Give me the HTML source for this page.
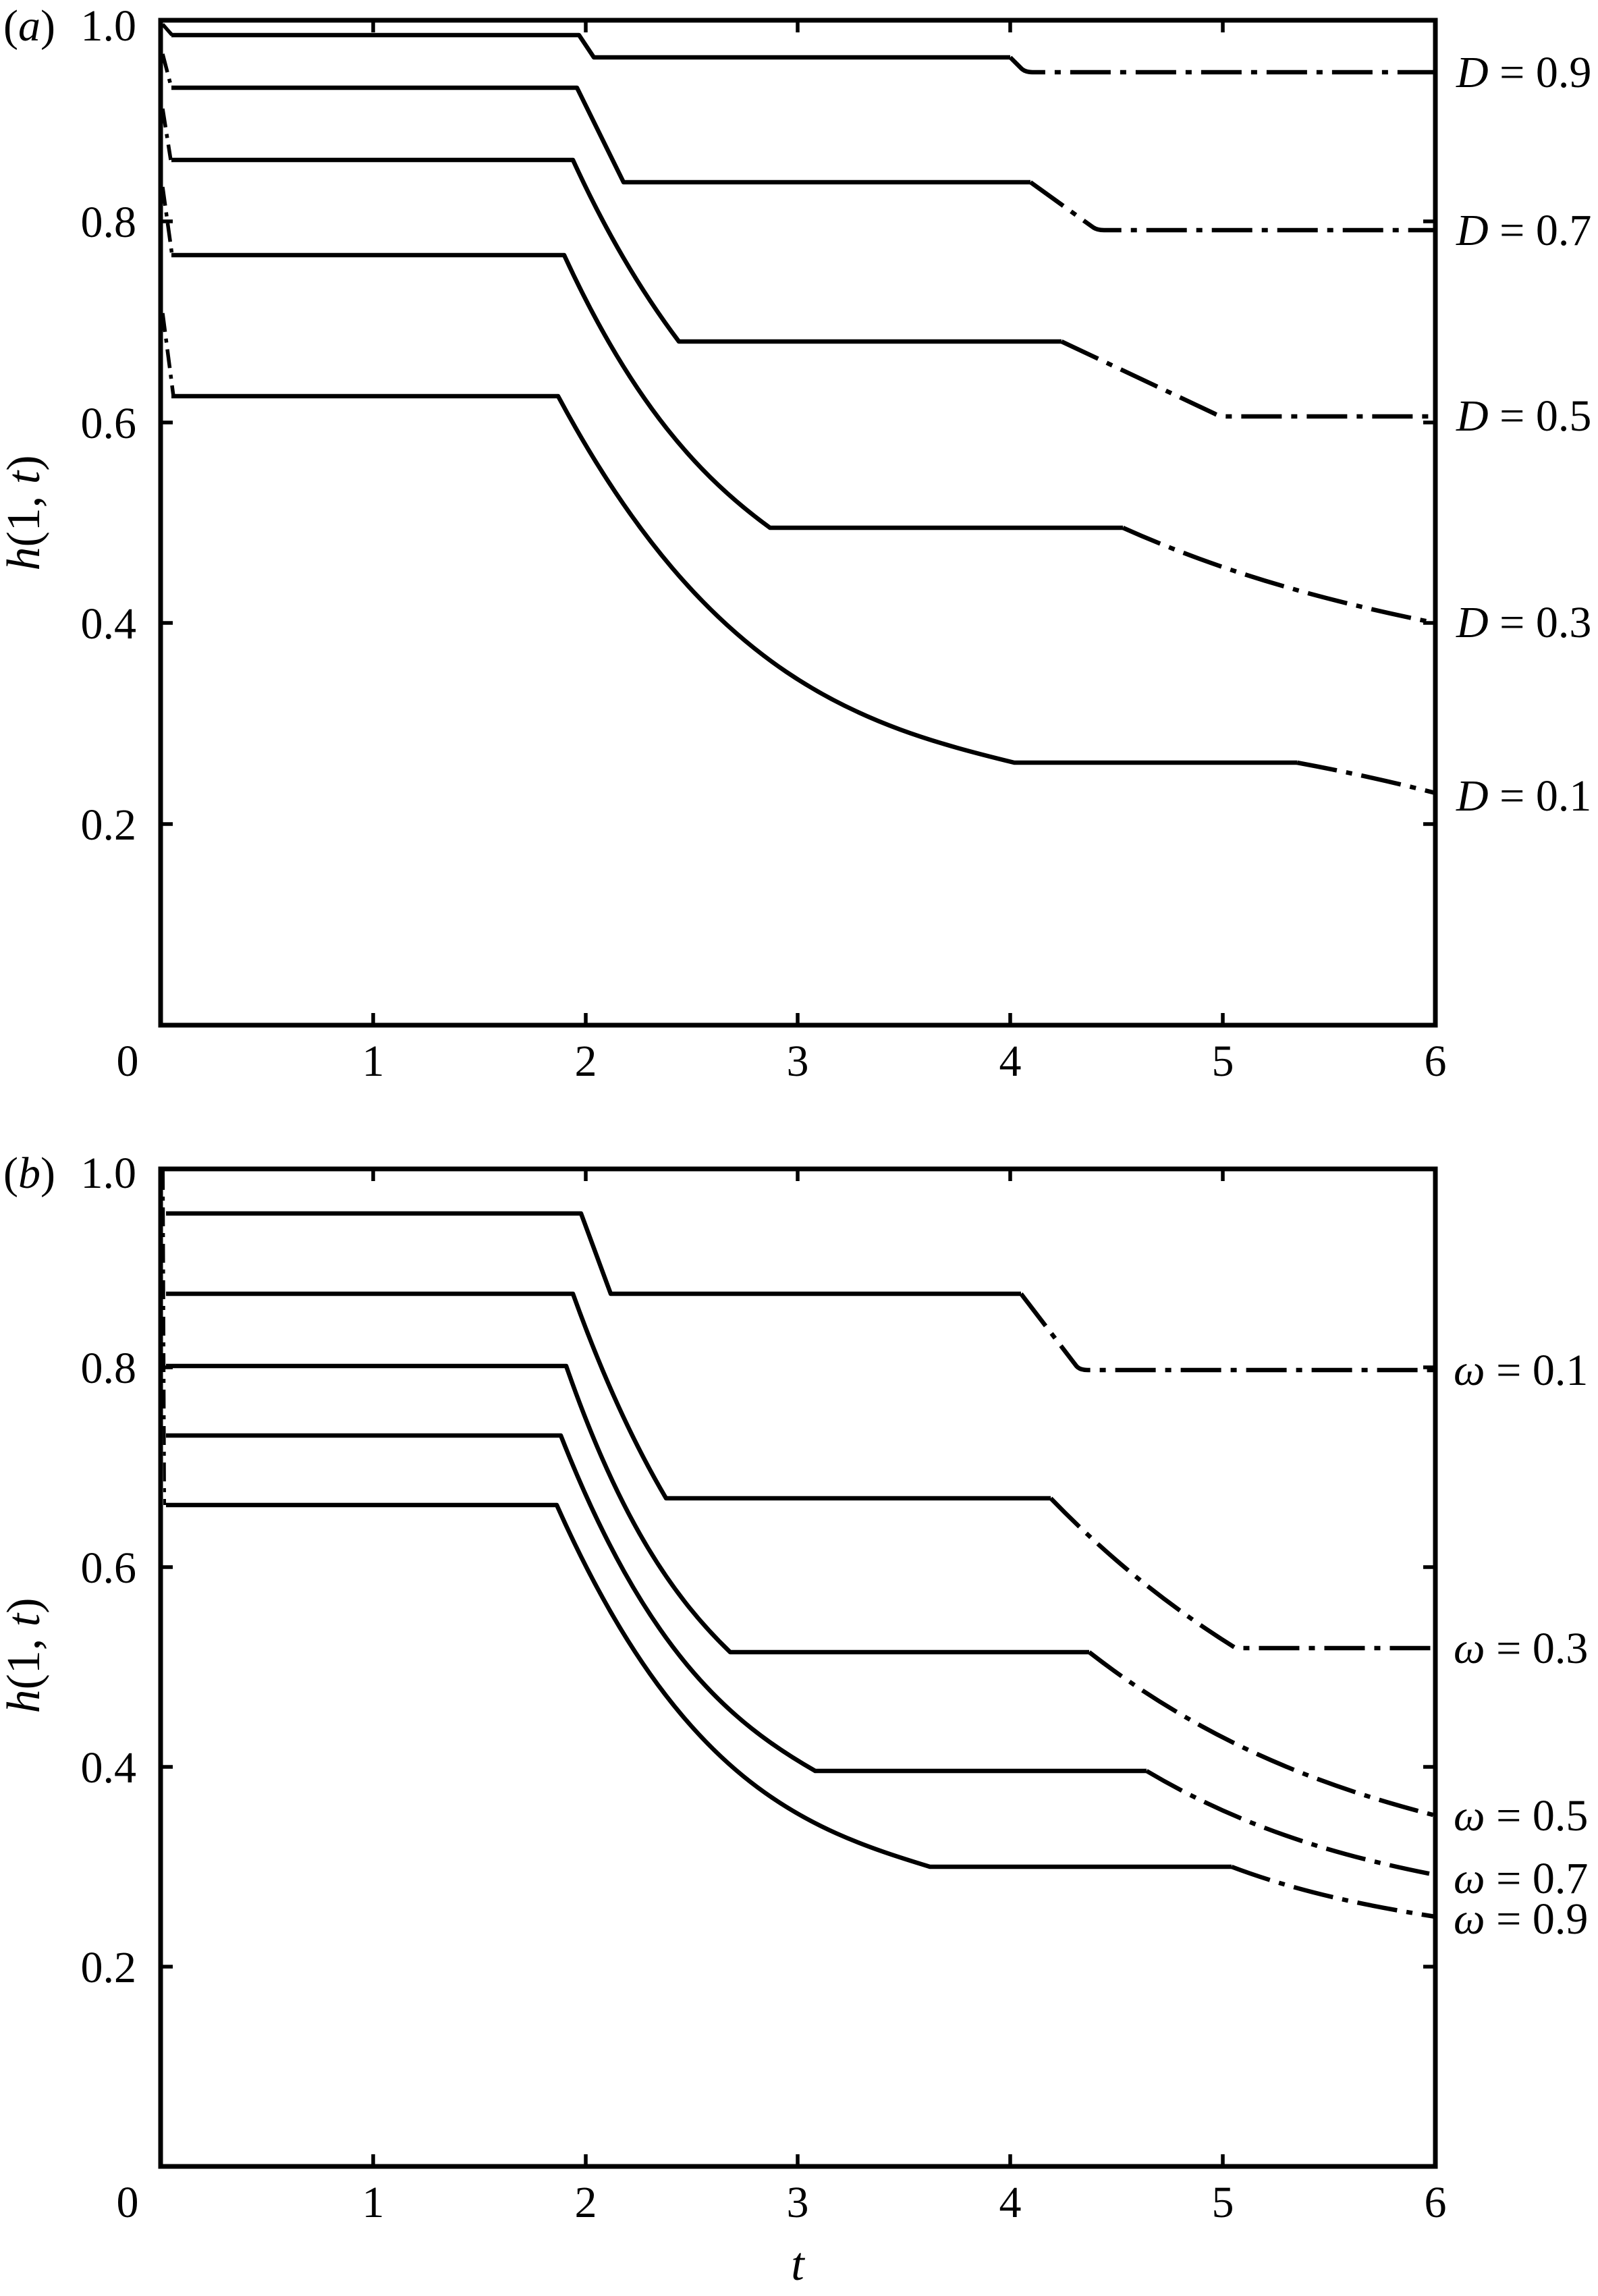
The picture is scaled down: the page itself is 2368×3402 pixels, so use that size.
<!DOCTYPE html>
<html><head><meta charset="utf-8"><style>
html,body{margin:0;padding:0;background:#fff;}
svg{display:block;}
text{font-family:"Liberation Serif",serif;fill:#000;}
</style></head><body>
<svg width="2368" height="3402" viewBox="0 0 2368 3402" xmlns="http://www.w3.org/2000/svg">
<rect width="2368" height="3402" fill="#fff"/>
<g fill="none" stroke="#000" stroke-width="7">
<rect x="238" y="30" width="1889" height="1489"/>
<rect x="238" y="1732" width="1889" height="1478"/>
</g>
<g stroke="#000" stroke-width="5.5">
<path d="M553,1519v-18M868,1519v-18M1182,1519v-18M1497,1519v-18M1812,1519v-18
M553,30v18M868,30v18M1182,30v18M1497,30v18M1812,30v18
M238,1221h18M238,923h18M238,626h18M238,328h18
M2127,1221h-18M2127,923h-18M2127,626h-18M2127,328h-18"/>
<path d="M553,3210v-18M868,3210v-18M1182,3210v-18M1497,3210v-18M1812,3210v-18
M553,1732v18M868,1732v18M1182,1732v18M1497,1732v18M1812,1732v18
M238,2914h18M238,2618h18M238,2322h18M238,2026h18
M2127,2914h-18M2127,2618h-18M2127,2322h-18M2127,2026h-18"/>
</g>
<g fill="none" stroke="#000" stroke-width="6.5" stroke-linejoin="round">
<path d="M254,52 H858 L880,85 H1497"/>
<path d="M254,130 H855 L924,270 H1527"/>
<path d="M254,237 H849 C901,351 954,437 1006,506 H1573"/>
<path d="M254,378 H836 C938,600 1039,708 1141,782 H1664"/>
<path d="M254,587 H827 C1052,1007 1278,1075 1503,1130 H1922"/>
</g>
<g fill="none" stroke="#000" stroke-width="6.5" stroke-dasharray="60 14 9 14">
<path d="M1497,85 L1512,100 Q1518,107 1530,107 H2127"/>
<path d="M1527,270 L1620,337 Q1626,341 1636,341 H2127"/>
<path d="M1573,506 L1800,613 Q1806,617 1818,617 H2127"/>
<path d="M1664,782 C1818,851 1973,892 2127,923"/>
<path d="M1922,1130 Q2030,1150 2127,1175"/>
</g>
<g fill="none" stroke="#000" stroke-width="5.5" stroke-dasharray="28 10 6 10">
<path d="M241,36 L255,52"/>
<path d="M241,80 L254,130"/>
<path d="M241,161 L253,237"/>
<path d="M241,277 L255,378"/>
<path d="M241,464 L257,587"/>
</g>
<g fill="none" stroke="#000" stroke-width="6.5" stroke-linejoin="round">
<path d="M246,1798 H861 L905,1917 H1513"/>
<path d="M246,1917 H849 C895,2045 941,2142 987,2220 H1557"/>
<path d="M246,2024 H839 C920,2257 1001,2370 1082,2448 H1614"/>
<path d="M246,2127 H831 C957,2447 1082,2552 1208,2624 H1699"/>
<path d="M246,2230 H825 C1009,2643 1194,2710 1378,2766 H1825"/>
</g>
<g fill="none" stroke="#000" stroke-width="6.5" stroke-dasharray="60 14 9 14">
<path d="M1513,1917 L1595,2024 Q1600,2030 1612,2030 H2127"/>
<path d="M1557,2220 C1648,2314 1740,2385 1831,2442 H2127"/>
<path d="M1614,2448 C1785,2581 1956,2646 2127,2690"/>
<path d="M1699,2624 C1842,2709 1984,2750 2127,2778"/>
<path d="M1825,2766 C1926,2804 2026,2824 2127,2840"/>
</g>
<g fill="none" stroke="#000" stroke-width="4" stroke-dasharray="28 10 6 10">
<path d="M242,1735 L244,2230"/>
</g>
<g font-size="66" text-anchor="end">
<text x="202" y="60">1.0</text>
<text x="202" y="351">0.8</text>
<text x="202" y="649">0.6</text>
<text x="202" y="946">0.4</text>
<text x="202" y="1244">0.2</text>
<text x="202" y="1760">1.0</text>
<text x="202" y="2049">0.8</text>
<text x="202" y="2345">0.6</text>
<text x="202" y="2641">0.4</text>
<text x="202" y="2937">0.2</text>
</g>
<g font-size="66" text-anchor="middle">
<text x="189" y="1594">0</text><text x="553" y="1594">1</text><text x="868" y="1594">2</text><text x="1182" y="1594">3</text><text x="1497" y="1594">4</text><text x="1812" y="1594">5</text><text x="2127" y="1594">6</text>
<text x="189" y="3285">0</text><text x="553" y="3285">1</text><text x="868" y="3285">2</text><text x="1182" y="3285">3</text><text x="1497" y="3285">4</text><text x="1812" y="3285">5</text><text x="2127" y="3285">6</text>
</g>
<text x="1182" y="3378" font-size="70" font-style="italic" text-anchor="middle">t</text>
<text x="5" y="60" font-size="66">(<tspan font-style="italic">a</tspan>)</text>
<text x="5" y="1760" font-size="66">(<tspan font-style="italic">b</tspan>)</text>
<text transform="translate(58,760) rotate(-90)" font-size="70" text-anchor="middle"><tspan font-style="italic">h</tspan>(1, <tspan font-style="italic">t</tspan>)</text>
<text transform="translate(58,2453) rotate(-90)" font-size="70" text-anchor="middle"><tspan font-style="italic">h</tspan>(1, <tspan font-style="italic">t</tspan>)</text>
<g font-size="66">
<text x="2158" y="129"><tspan font-style="italic">D</tspan> = 0.9</text>
<text x="2158" y="363"><tspan font-style="italic">D</tspan> = 0.7</text>
<text x="2158" y="638"><tspan font-style="italic">D</tspan> = 0.5</text>
<text x="2158" y="944"><tspan font-style="italic">D</tspan> = 0.3</text>
<text x="2158" y="1201"><tspan font-style="italic">D</tspan> = 0.1</text>
<text x="2154" y="2052"><tspan font-style="italic">ω</tspan> = 0.1</text>
<text x="2154" y="2464"><tspan font-style="italic">ω</tspan> = 0.3</text>
<text x="2154" y="2712"><tspan font-style="italic">ω</tspan> = 0.5</text>
<text x="2154" y="2805"><tspan font-style="italic">ω</tspan> = 0.7</text>
<text x="2154" y="2865"><tspan font-style="italic">ω</tspan> = 0.9</text>
</g>
</svg>
</body></html>
